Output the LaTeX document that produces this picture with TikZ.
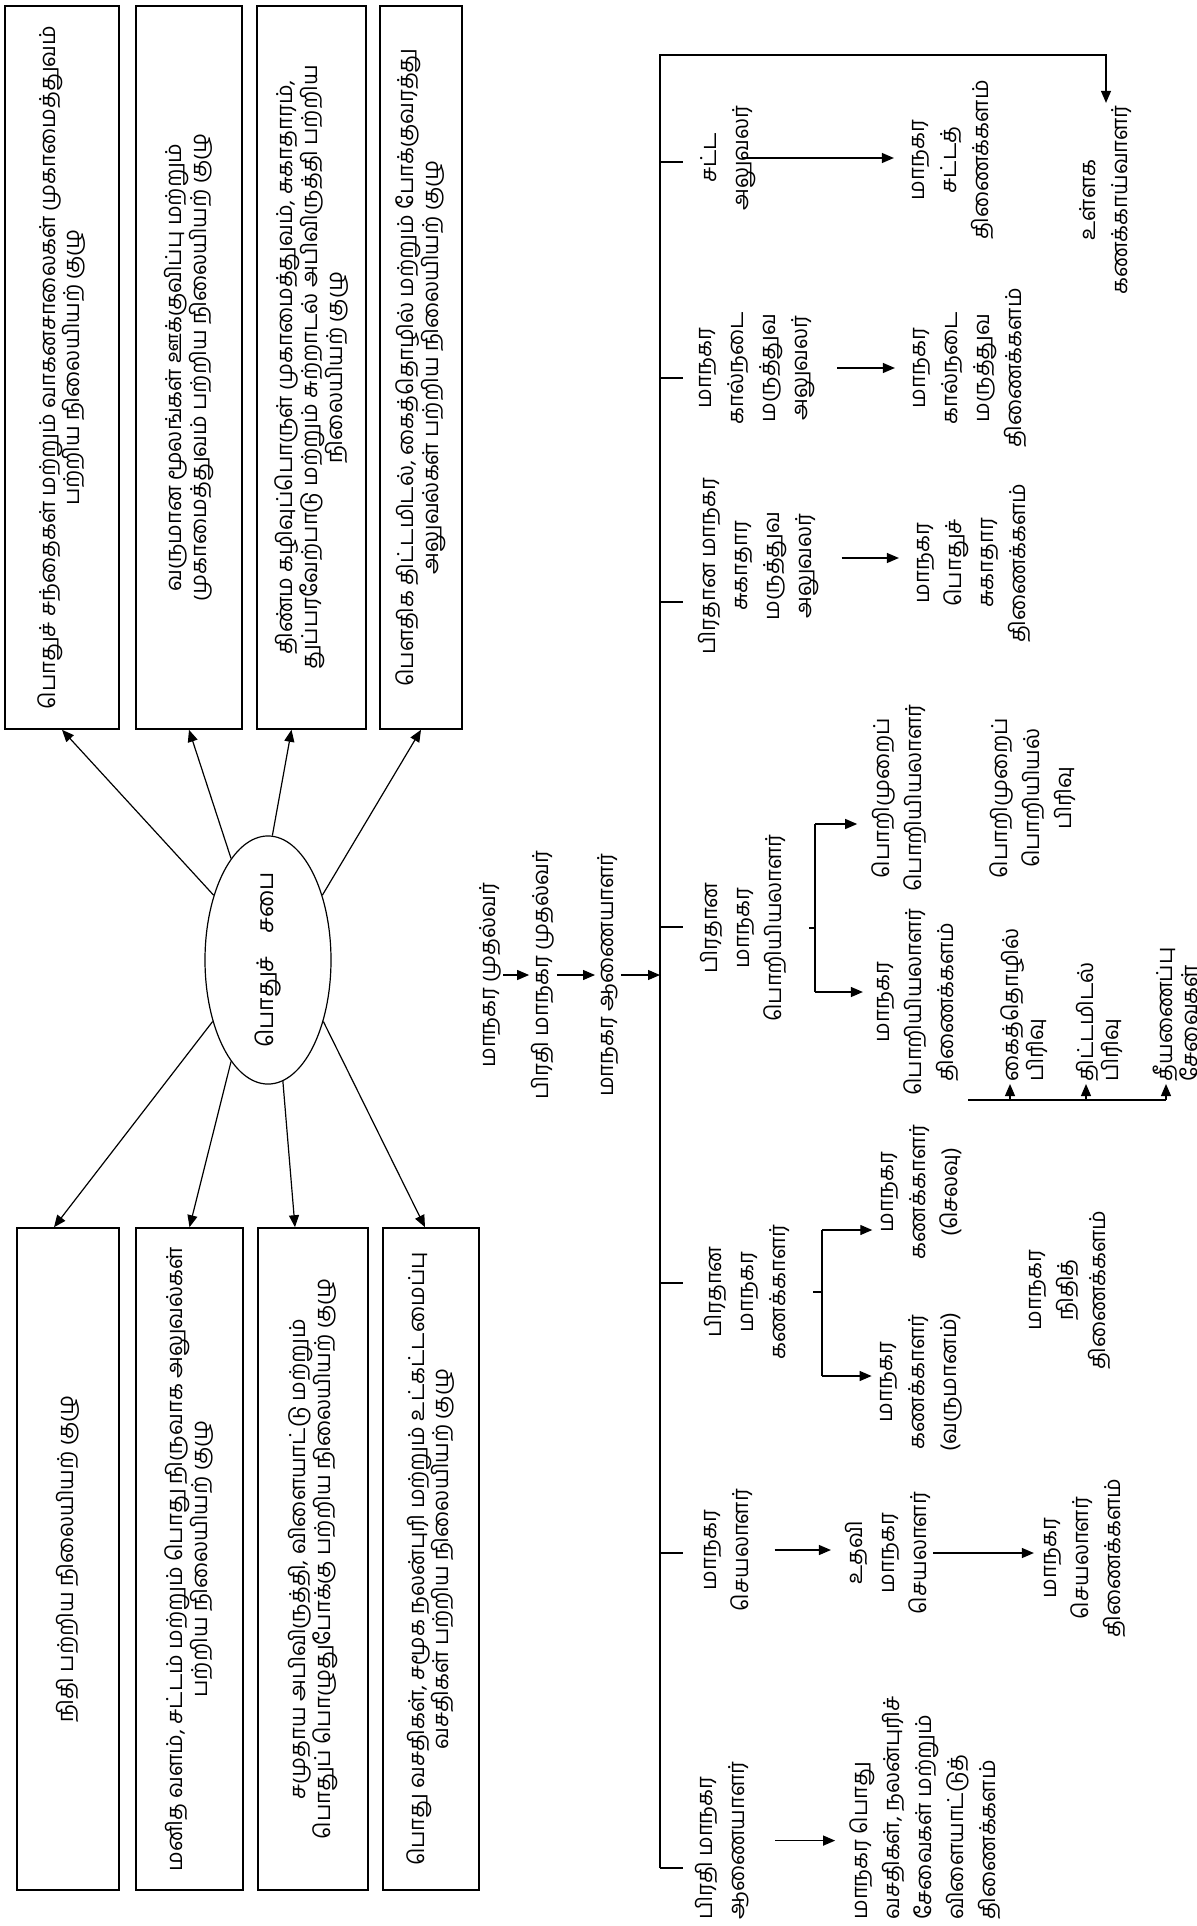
\documentclass[tikz,border=0pt]{standalone}
\usepackage{fontspec}
\usepackage{graphicx}
\newfontfamily\tam[Script=Tamil]{Hind Madurai}
\usetikzlibrary{positioning,arrows.meta,calc,shapes.geometric}

\tikzset{
  ln/.style={line width=0.6pt},
  arr/.style={ln, -{Triangle[length=6pt,width=5pt]}},
  cbox/.style={draw, line width=0.8pt, inner sep=0pt},
  lbl/.style={rotate=90, align=center, inner sep=1pt, font=\tam\fontsize{11}{16}\selectfont},
  lbll/.style={lbl, align=left},
  divl/.style={lbll, anchor=west, font=\tam\fontsize{11}{12.5}\selectfont},
}
\newcommand{\cmtxt}[1]{\rotatebox{90}{\tam\fontsize{11}{10.8}\selectfont\begin{tabular}{@{}c@{}}#1\end{tabular}}}

\begin{document}
\begin{tikzpicture}[x=0.5pt, y=-0.5pt]
  \useasboundingbox (0,0) rectangle (1196,1926);

  % standing committees
  \node[cbox, minimum width=57pt, minimum height=361.5pt] (a1) at (62,367.5)
    {\cmtxt{பொதுச் சந்தைகள் மற்றும் வாகனசாலைகள் முகாமைத்துவம்\\பற்றிய நிலையியற் குழு}};
  \node[cbox, minimum width=53pt, minimum height=361.5pt] (a2) at (189,367.5)
    {\cmtxt{வருமான மூலங்கள் ஊக்குவிப்பு மற்றும்\\முகாமைத்துவம் பற்றிய நிலையியற் குழு}};
  \node[cbox, minimum width=54.5pt, minimum height=361.5pt] (a3) at (311.5,367.5)
    {\cmtxt{திண்ம கழிவுப்பொருள் முகாமைத்துவம், சுகாதாரம்,\\துப்பரவேற்பாடு மற்றும் சுற்றாடல் அபிவிருத்தி பற்றிய\\நிலையியற் குழு}};
  \node[cbox, minimum width=41pt, minimum height=361.5pt] (a4) at (421,367.5)
    {\cmtxt{பௌதிக திட்டமிடல், கைத்தொழில் மற்றும் போக்குவரத்து\\அலுவல்கள் பற்றிய நிலையியற் குழு}};
  \node[cbox, minimum width=51pt, minimum height=331pt] (b1) at (68,1559)
    {\cmtxt{நிதி பற்றிய நிலையியற் குழு}};
  \node[cbox, minimum width=53.5pt, minimum height=331pt] (b2) at (189.5,1559)
    {\cmtxt{மனித வளம், சட்டம் மற்றும் பொது நிருவாக அலுவல்கள்\\பற்றிய நிலையியற் குழு}};
  \node[cbox, minimum width=55pt, minimum height=331pt] (b3) at (313,1559)
    {\cmtxt{சமுதாய அபிவிருத்தி, விளையாட்டு மற்றும்\\பொதுப் பொழுதுபோக்கு பற்றிய நிலையியற் குழு}};
  \node[cbox, minimum width=48pt, minimum height=331pt] (b4) at (431,1559)
    {\cmtxt{பொது வசதிகள், சமூக நலன்புரி மற்றும் உட்கட்டமைப்பு\\வசதிகள் பற்றிய நிலையியற் குழு}};

  % council
  \node[ellipse, draw, ln, minimum width=63pt, minimum height=110pt, inner sep=0pt] (council) at (268,960)
    {\rotatebox{90}{\tam\fontsize{11.5}{14}\selectfont பொதுச்\quad சபை}};
  \draw[arr] (council.130) -- (a1.south);
  \draw[arr] (council.110) -- (a2.south);
  \draw[arr] (council.88) -- ([xshift=-10pt]a3.south);
  \draw[arr] (council.50) -- (a4.south);
  \draw[arr] (council.228) -- ([xshift=-7pt]b1.north);
  \draw[arr] (council.250) -- (b2.north);
  \draw[arr] (council.277) -- ([xshift=-9pt]b3.north);
  \draw[arr] (council.312) -- ([xshift=-3pt]b4.north);

  % mayor chain
  \node[lbl] (mayor) at (490,975) {மாநகர முதல்வர்};
  \node[lbl] (dmayor) at (543,975) {பிரதி மாநகர முதல்வர்};
  \node[lbl] (comm) at (608,975) {மாநகர ஆணையாளர்};
  \coordinate (bustop) at (660,55);
  \coordinate (busbot) at (660,1868);
  \draw[arr] (mayor.south) -- (dmayor.north);
  \draw[arr] (dmayor.south) -- (comm.north);
  \draw[arr] (comm.south) -- (comm.south -| bustop);

  % heads of department
  \node[lbl] (audit) at (1106,200) {உள்ளக\\கணக்காய்வாளர்};
  \node[lbl] (law) at (728,158) {சட்ட\\அலுவலர்};
  \node[lbl] (lawdept) at (953,160) {மாநகர\\சட்டத்\\திணைக்களம்};
  \node[lbl] (vet) at (757,368) {மாநகர\\கால்நடை\\மருத்துவ\\அலுவலர்};
  \node[lbl] (vetdept) at (970,368) {மாநகர\\கால்நடை\\மருத்துவ\\திணைக்களம்};
  \node[lbl] (moh) at (759,566) {பிரதான மாநகர\\சுகாதார\\மருத்துவ\\அலுவலர்};
  \node[lbl] (mohdept) at (974,563) {மாநகர\\பொதுச்\\சுகாதார\\திணைக்களம்};
  \node[lbl] (eng) at (743,928) {பிரதான\\மாநகர\\பொறியியலாளர்};
  \node[lbl] (mecheng) at (899,798) {பொறிமுறைப்\\பொறியியலாளர்};
  \node[lbl] (engdept) at (918,1002) {மாநகர\\பொறியியலாளர்\\திணைக்களம்};
  \node[lbl] (mechdiv) at (1033,798) {பொறிமுறைப்\\பொறியியல்\\பிரிவு};
  \node[divl] (inddiv) at (1024,1084) {கைத்தொழில்\\பிரிவு};
  \node[divl] (plandiv) at (1099,1084) {திட்டமிடல்\\பிரிவு};
  \node[divl] (firediv) at (1175,1084) {தீயணைப்பு\\சேவைகள்};
  \node[lbl] (acc) at (747,1292) {பிரதான\\மாநகர\\கணக்காளர்};
  \node[lbl] (accexp) at (921,1192) {மாநகர\\கணக்காளர்\\(செலவு)};
  \node[lbl] (accrev) at (921,1382) {மாநகர\\கணக்காளர்\\(வருமானம்)};
  \node[lbl] (findept) at (1070,1290) {மாநகர\\நிதித்\\திணைக்களம்};
  \node[lbl] (sec) at (728,1550) {மாநகர\\செயலாளர்};
  \node[lbl] (asec) at (888,1553) {உதவி\\மாநகர\\செயலாளர்};
  \node[lbl] (secdept) at (1085,1558) {மாநகர\\செயலாளர்\\திணைக்களம்};
  \node[lbll, anchor=west] (dcomm) at (722,1922) {பிரதி மாநகர\\ஆணையாளர்};
  \node[lbll, anchor=west] (pubdept) at (925,1922) {மாநகர பொது\\வசதிகள், நலன்புரிச்\\சேவைகள் மற்றும்\\விளையாட்டுத்\\திணைக்களம்};

  % bus and branches
  \draw[arr] (busbot) -- (bustop) -| (audit.east);
  \draw[ln] (busbot) -- ++(23,0);
  \foreach \n/\dy in {law/4,vet/10,moh/36,eng/-1,acc/-9,sec/3}
    \draw[ln] (bustop |- \n.center) ++(0,\dy) -- ++(23,0);

  \draw[arr, shorten <=-2pt, shorten >=8pt] ([xshift=9pt]law.center) -- (law.center -| lawdept.north);
  \draw[arr, shorten <=10pt, shorten >=8pt] (vet.south) -- (vetdept.north);
  \draw[arr, shorten <=10pt, shorten >=8pt] ([yshift=4pt]moh.south) -- ([yshift=4pt]moh.south -| mohdept.north);

  % engineer bracket
  \coordinate (engT) at (815,824);
  \coordinate (engB) at (815,992);
  \draw[ln] (engT) -- (engB);
  \draw[ln] ([xshift=-3pt]engT |- eng) -- (engT |- eng);
  \draw[arr, shorten >=6pt] (engT) -- (engT -| mecheng.north);
  \draw[arr, shorten >=6pt] (engB) -- (engB -| engdept.north);

  % divisions
  \coordinate (divL) at (968,1100);
  \coordinate (divR) at (1166,1100);
  \coordinate (dA) at (1010,1100);
  \coordinate (dB) at (1086,1100);
  \draw[ln] (divL) -- (divR);
  \draw[arr] (dA) -- (dA |- inddiv.west);
  \draw[arr] (dB) -- (dB |- plandiv.west);
  \draw[arr] (divR) -- (divR |- firediv.west);

  % accountant bracket
  \coordinate (accT) at (822,1230);
  \coordinate (accB) at (822,1376);
  \draw[ln] (accT) -- (accB);
  \draw[ln] ([xshift=-4.5pt]accT |- acc) -- (accT |- acc);
  \draw[arr, shorten >=3pt] (accT) -- (accT -| accexp.north);
  \draw[arr, shorten >=3pt] (accB) -- (accB -| accrev.north);

  % secretary
  \draw[arr, shorten <=10pt, shorten >=6pt] (sec.south) -- (sec.south -| asec.north);
  \draw[arr, shorten >=4pt] (asec.south) -- (asec.south -| secdept.north);
  \draw[arr, shorten <=12pt, shorten >=6pt] (dcomm.south) -- (dcomm.south -| pubdept.north);
\end{tikzpicture}
\end{document}
